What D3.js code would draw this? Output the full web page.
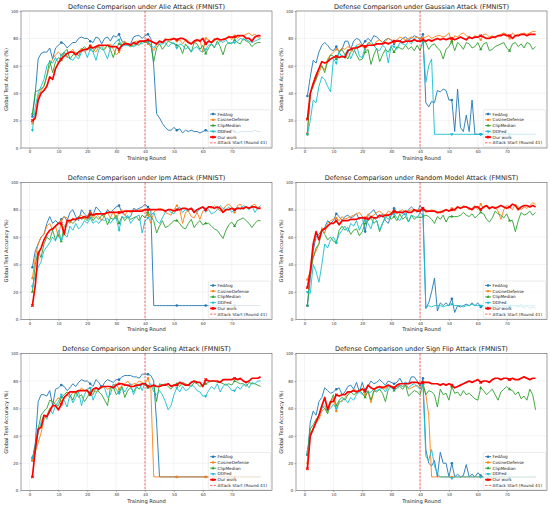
<!DOCTYPE html>
<html lang="en">
<head>
<meta charset="UTF-8">
<title>Defense Comparison (FMNIST)</title>
<script src="https://d3js.org/d3.v7.min.js"></script>
<style>
body{margin:0;background:#fff;}
svg{display:block;font-family:"DejaVu Sans",sans-serif;}
</style>
</head>
<body>
<script>
// categories and ticks
var rounds = d3.range(1, 81);
var xTicks = [0, 10, 20, 30, 40, 50, 60, 70];
var yTicks = [0, 20, 40, 60, 80, 100];
var attackRound = 40;
var methods = ["FedAvg", "CosineDefense", "ClipMedian", "DDFed", "Our work"];
var attackLabel = "Attack Start (Round 41)";
var attacks = ["Alie", "Gaussian", "Ipm", "Random Model", "Scaling", "Sign Flip"];

// Alie
var alieFedAvg = [23,40,65,69,70,70,73,65,73,75, 77,76,73,75,77,77,80,81,80,80, 78,77,81,80,76,80,81,78,82,81, 83,78,77,76,76,81,82,82,80,82, 83,80,60,25,22,18,15,13,13,15, 13,14,11,13,12,13,12,12,11,12, 13,12,13,11,12,13,12,11,12,13, 12,11,12,12,12,12,12,13,12,12];
var alieCosine = [18,22,38,42,45,52,60,65,68,70, 68,70,66,70,72,68,70,73,70,72, 75,72,70,74,75,73,75,76,72,68, 70,77,78,76,75,77,78,77,78,78, 76,74,71,75,78,77,80,79,80,80, 78,79,76,79,78,76,77,78,79,70, 80,79,77,80,79,78,80,79,82,79, 82,80,82,82,83,84,82,83,81,80];
var alieClip = [25,41,42,43,45,53,64,55,63,66, 64,70,72,65,68,70,67,72,74,72, 73,70,73,74,72,72,75,72,66,73, 76,75,77,75,74,75,76,75,78,77, 78,75,63,73,76,72,75,78,77,76, 75,74,69,76,73,70,77,76,72,75, 69,73,76,73,78,74,68,75,77,76, 79,77,76,80,78,77,74,76,77,77];
var alieDDFed = [13,30,40,45,50,60,63,62,66,62, 68,70,67,65,64,67,65,70,72,66, 72,70,64,72,74,70,65,73,75,78, 79,74,75,75,75,74,75,77,76,79, 77,75,73,76,76,76,77,74,76,77, 73,76,75,72,74,70,73,74,71,70, 72,75,76,74,76,78,77,79,76,77, 77,78,80,79,79,78,77,78,79,80];
var alieOurs = [20,22,35,40,42,45,52,50,58,62, 65,67,69,70,70,68,70,71,72,72, 74,73,74,75,75,75,75,74,74,74, 72,75,76,76,75,77,76,78,78,78, 79,78,77,76,78,77,79,79,79,80, 79,80,80,79,77,76,78,79,78,80, 76,78,77,79,80,79,79,80,81,81, 81,82,82,82,80,80,78,81,82,82];

// Gaussian
var gaussFedAvg = [38,52,64,62,70,75,77,75,72,71, 74,70,72,78,78,72,78,80,79,75, 78,80,78,82,81,79,77,79,80,79, 76,79,78,80,81,79,80,82,81,79, 83,33,30,34,33,42,41,43,42,35, 35,12,43,15,12,24,12,35,10,10, 10,10,10,12,11,10,10,10,10,10, 10,10,10,10,10,10,10,10,10,10];
var gaussCosine = [11,40,47,50,55,60,57,65,68,70, 72,71,73,72,74,73,70,75,76,74, 72,77,76,75,78,79,77,78,80,79, 77,79,81,80,79,80,81,80,81,80, 80,81,82,80,81,82,82,81,82,84, 77,82,81,83,84,82,81,80,82,81, 79,83,83,81,82,80,82,83,84,83, 80,84,82,83,83,84,83,84,85,85];
var gaussClip = [10,40,45,50,58,60,55,63,68,67, 65,70,72,68,65,70,73,68,64,65, 70,72,61,68,73,63,68,72,70,74, 70,74,73,72,75,72,74,71,75,71, 78,77,72,75,76,73,71,65,72,74, 78,71,77,75,72,77,76,73,74,77, 72,76,77,71,72,74,75,76,77,73, 71,76,77,74,76,73,77,76,72,74];
var gaussDDFed = [10,20,35,33,45,52,50,45,41,65, 62,70,66,68,72,65,70,75,67,66, 74,76,78,75,72,71,75,73,62,75, 74,72,77,76,75,78,76,80,78,78, 77,48,60,65,10,10,10,10,10,10, 10,10,10,10,10,10,10,10,10,10, 10,10,10,10,10,10,10,10,10,10, 10,10,10,10,10,10,10,10,10,10];
var gaussOurs = [21,40,47,53,58,63,62,63,65,66, 67,66,67,66,71,72,73,73,74,75, 74,75,75,75,76,76,76,77,76,77, 78,78,78,77,78,78,78,79,78,78, 79,78,79,78,79,80,79,80,79,80, 80,79,80,81,80,79,81,80,81,81, 82,81,80,80,81,81,82,82,83,82, 82,80,82,82,83,83,82,83,83,83];

// Ipm
var ipmFedAvg = [38,50,55,60,62,70,75,70,72,70, 73,75,72,78,80,75,72,80,77,75, 79,76,82,80,77,76,80,78,80,82, 83,78,76,74,75,81,80,81,82,84, 82,80,10,10,10,10,10,10,10,10, 10,10,10,10,10,10,10,10,10,10, 10,10,10,10,10,10,10,10,10,10, 10,10,10,10,10,10,10,10,10,10];
var ipmCosine = [30,45,55,60,62,68,70,65,68,60, 72,75,74,70,74,72,75,76,73,75, 78,74,77,75,72,76,78,74,79,73, 78,80,76,79,78,80,79,80,80,80, 76,70,78,80,81,80,78,77,76,80, 83,80,70,78,79,75,74,78,73,79, 80,82,81,83,81,79,80,83,84,82, 78,83,84,80,82,81,83,84,81,82];
var ipmClip = [20,40,50,45,55,60,58,65,58,62, 57,68,70,72,70,72,75,73,74,72, 76,72,75,73,76,75,69,74,73,76, 70,75,72,75,73,74,75,72,76,74, 78,75,72,63,68,72,67,68,70,72, 72,70,67,66,70,73,67,70,72,69, 70,70,68,66,65,62,59,65,69,71, 68,72,73,74,72,70,67,70,72,72];
var ipmDDFed = [24,32,38,42,50,53,56,60,57,65, 58,62,60,68,65,70,66,68,72,70, 74,70,72,70,73,72,74,70,73,74, 65,75,74,76,70,73,75,76,63,72, 74,76,78,72,70,74,78,80,78,77, 80,82,78,80,79,81,80,78,81,82, 79,80,77,78,80,83,81,80,82,78, 80,82,80,83,82,80,83,78,81,83];
var ipmOurs = [10,25,48,52,58,62,65,66,68,70, 70,62,72,72,73,73,74,74,75,74, 77,76,77,77,77,77,78,78,78,78, 78,78,79,79,79,79,79,79,79,80, 80,80,80,80,80,80,79,80,80,79, 80,80,81,81,80,81,78,80,81,82, 80,82,82,81,82,81,78,80,80,81, 80,81,81,81,82,81,82,82,81,81];

// Random Model
var randFedAvg = [10,30,50,60,62,65,67,72,70,72, 77,75,72,75,76,74,75,77,73,75, 64,76,78,80,76,74,77,72,70,76, 81,78,79,77,76,80,82,80,78,83, 80,8,12,20,30,6,12,10,12,10, 15,5,10,9,10,11,10,12,10,12, 9,10,8,9,9,10,9,8,9,10, 9,10,10,9,11,8,10,8,9,8];
var randCosine = [29,35,45,50,55,67,63,70,72,73, 74,72,75,73,74,75,76,77,78,75, 73,77,75,76,78,79,77,76,79,78, 78,77,79,80,78,79,80,79,80,80, 81,78,79,80,79,77,79,78,80,79, 81,79,82,81,83,82,80,81,83,80, 84,81,83,80,82,82,79,73,80,83, 82,80,84,82,80,82,81,83,85,84];
var randClip = [10,35,45,52,55,65,62,58,60,57, 56,65,68,65,67,62,65,66,61,64, 70,72,74,70,72,64,70,74,76,73, 75,72,77,73,75,71,76,73,75,74, 75,76,75,73,70,75,73,76,71,75, 75,75,75,76,78,76,75,77,74,76, 78,77,73,71,74,79,77,76,74,77, 72,72,64,72,78,76,77,79,76,78];
var randDDFed = [20,19,40,35,27,40,55,52,58,60, 56,62,65,68,64,70,68,72,65,70, 72,70,66,74,72,65,70,75,73,76, 77,74,72,76,78,71,76,75,74,78, 76,8,10,9,10,10,10,9,10,10, 11,10,10,10,9,10,10,11,10,10, 10,10,9,10,10,10,10,10,10,9, 10,10,10,10,9,10,10,10,10,10];
var randOurs = [23,35,55,64,58,65,66,68,70,70, 72,69,72,72,72,73,73,73,74,74, 74,73,75,74,74,76,75,76,76,77, 79,78,78,78,79,78,78,80,79,79, 81,79,79,79,79,78,78,79,80,79, 80,80,82,81,82,82,81,80,82,82, 80,82,83,81,82,81,82,83,82,81, 82,84,83,80,82,83,83,82,83,82];

// Scaling
var scaleFedAvg = [22,35,65,70,70,69,73,62,74,75, 77,76,73,75,78,76,79,81,80,80, 78,76,81,79,75,79,81,80,79,81, 81,83,84,84,84,83,83,82,85,85, 85,84,80,50,10,10,10,10,10,10, 10,10,10,10,10,10,10,10,10,10, 10,10,10,10,10,10,10,10,10,10, 10,10,10,10,10,10,10,10,10,10];
var scaleCosine = [22,28,35,42,52,55,60,62,65,68, 65,68,70,68,72,71,72,75,73,74, 75,73,72,74,75,76,74,75,77,78, 74,77,78,80,77,78,78,80,79,78, 82,75,10,10,10,10,10,10,10,10, 10,10,10,10,10,10,10,10,10,10, 10,10,10,10,10,10,10,10,10,10, 10,10,10,10,10,10,10,10,10,10];
var scaleClip = [24,32,45,55,58,60,66,65,63,62, 68,70,72,70,66,72,68,70,65,68, 72,70,75,72,70,66,62,75,76,70, 72,76,68,73,75,72,76,74,78,77, 75,76,77,65,78,77,78,76,74,77, 78,76,79,78,77,76,79,78,76,77, 78,79,80,80,79,79,78,77,78,77, 80,79,78,78,76,79,78,78,77,76];
var scaleDDFed = [24,30,42,50,55,52,60,56,62,65, 70,66,61,70,64,68,72,62,70,74, 75,66,71,74,77,75,68,70,78,74, 71,75,72,76,78,70,75,78,73,79, 76,78,72,70,73,70,65,59,62,70, 75,72,76,73,74,77,76,73,72,69, 69,73,76,74,78,72,76,78,76,73, 73,76,74,77,78,75,79,78,80,80];
var scaleOurs = [10,30,45,46,55,54,58,62,62,59, 63,68,70,72,72,72,73,73,73,73, 70,74,75,74,76,76,76,76,75,77, 78,78,77,77,76,76,77,77,78,78, 76,76,77,76,76,77,77,78,76,77, 77,79,78,77,77,79,80,79,79,76, 81,80,80,80,80,79,81,81,81,81, 82,81,82,80,79,80,82,82,82,83];

// Sign Flip
var signFedAvg = [26,50,58,55,65,68,75,73,71,72, 74,75,70,72,76,77,74,79,72,79, 72,76,80,78,79,81,79,77,80,79, 78,79,82,78,79,78,83,83,80,76, 82,30,20,18,22,10,28,20,20,10, 20,10,12,10,11,19,10,12,10,13, 11,10,10,10,10,10,10,10,10,10, 10,10,10,10,10,10,10,10,10,10];
var signCosine = [20,42,45,50,52,58,60,57,63,68, 58,65,65,68,70,72,74,73,72,75, 70,72,64,72,76,75,76,74,77,76, 75,76,77,76,77,74,75,76,77,75, 78,70,55,10,10,10,10,10,10,10, 10,10,10,10,10,10,10,10,10,10, 10,10,10,10,10,10,10,10,10,10, 10,10,10,10,10,10,10,10,10,10];
var signClip = [27,45,48,52,55,62,60,56,65,70, 62,66,68,66,70,72,70,71,73,71, 68,73,66,73,72,74,71,65,74,76, 73,75,76,74,77,69,71,73,72,70, 78,70,73,72,70,61,74,70,71,66, 76,71,72,69,73,70,71,69,67,66, 75,73,70,72,74,70,66,72,74,76, 74,73,70,72,67,69,66,74,70,59];
var signDDFed = [28,40,45,50,55,60,62,58,60,63, 60,64,66,67,64,68,66,70,72,70, 74,71,72,74,73,74,75,72,76,75, 74,75,77,76,78,75,77,78,76,74, 77,25,22,30,18,12,10,10,10,10, 9,10,10,10,10,10,10,10,10,10, 10,10,10,10,10,10,10,10,10,10, 10,10,10,10,10,10,10,10,10,10];
var signOurs = [16,40,45,50,55,62,68,59,65,65, 70,69,70,70,72,72,73,72,73,74, 73,77,75,74,75,76,75,76,77,76, 75,77,78,78,78,78,79,79,79,78, 79,79,79,78,78,78,77,78,77,78, 77,75,76,77,78,79,80,79,80,81, 79,80,80,79,81,82,82,81,82,82, 81,82,81,81,82,83,82,81,82,82];

var panelSeries = [
	[alieFedAvg, alieCosine, alieClip, alieDDFed, alieOurs],
	[gaussFedAvg, gaussCosine, gaussClip, gaussDDFed, gaussOurs],
	[ipmFedAvg, ipmCosine, ipmClip, ipmDDFed, ipmOurs],
	[randFedAvg, randCosine, randClip, randDDFed, randOurs],
	[scaleFedAvg, scaleCosine, scaleClip, scaleDDFed, scaleOurs],
	[signFedAvg, signCosine, signClip, signDDFed, signOurs]
];

var W = 550, H = 508;
var colX = [21, 296];
var rowY = [11, 182.3, 353.6];
var w = 251, h = 137;
var colors = ["#1f77b4", "#ff7f0e", "#2ca02c", "#17becf", "#ff0000"];
var widths = [0.9, 0.9, 0.9, 0.9, 1.7];
var symbols = [d3.symbolCircle, d3.symbolSquare, d3.symbolTriangle, d3.symbolTriangle, d3.symbolCross];
var rotations = [0, 0, 0, 180, 45];
var symSizes = [5, 4.5, 4.5, 4.5, 6];

var svg = d3.select("body").append("svg")
	.attr("width", W)
	.attr("height", H);

var x = d3.scaleLinear().domain([-2.95, 83.95]).range([0, w]);
var y = d3.scaleLinear().domain([0, 100]).range([h, 0]);

attacks.forEach(function(name, p){
	drawPanel(name, panelSeries[p], colX[p % 2], rowY[Math.floor(p / 2)]);
});

function drawPanel(name, series, left, top){
	var g = svg.append("g").attr("transform", "translate(" + left + "," + top + ")");

	// grid
	g.selectAll("line.gx").data(xTicks).enter().append("line")
		.attr("x1", function(d){ return x(d); })
		.attr("x2", function(d){ return x(d); })
		.attr("y1", 0).attr("y2", h)
		.attr("stroke", "#b0b0b0").attr("stroke-opacity", 0.35).attr("stroke-width", 0.4);
	g.selectAll("line.gy").data(yTicks).enter().append("line")
		.attr("x1", 0).attr("x2", w)
		.attr("y1", function(d){ return y(d); })
		.attr("y2", function(d){ return y(d); })
		.attr("stroke", "#b0b0b0").attr("stroke-opacity", 0.35).attr("stroke-width", 0.4);

	// axes
	var ax = g.append("g").attr("transform", "translate(0," + h + ")")
		.call(d3.axisBottom(x).tickValues(xTicks).tickSize(1.5).tickPadding(1.2));
	var ay = g.append("g")
		.call(d3.axisLeft(y).tickValues(yTicks).tickSize(1.5).tickPadding(1.2));
	[ax, ay].forEach(function(a){
		a.select(".domain").remove();
		a.attr("font-size", 3.9).attr("font-family", "DejaVu Sans");
		a.selectAll("line").attr("stroke", "#444").attr("stroke-width", 0.4);
		a.selectAll("text").attr("fill", "#333");
	});

	var line = d3.line()
		.x(function(d, i){ return x(rounds[i]); })
		.y(function(d){ return y(d); });

	series.forEach(function(vals, s){
		g.append("path")
			.datum(vals)
			.attr("d", line)
			.attr("fill", "none")
			.attr("stroke", colors[s])
			.attr("stroke-width", widths[s])
			.attr("stroke-linejoin", "round");
		g.selectAll("path.m" + s)
			.data(vals.filter(function(d, i){ return i % 10 === 0; }))
			.enter().append("path")
			.attr("d", d3.symbol().type(symbols[s]).size(symSizes[s]))
			.attr("transform", function(d, i){
				return "translate(" + x(rounds[i * 10]) + "," + y(d) + ") rotate(" + rotations[s] + ")";
			})
			.attr("fill", colors[s]);
	});

	// attack start
	g.append("line")
		.attr("x1", x(attackRound)).attr("x2", x(attackRound))
		.attr("y1", 0).attr("y2", h)
		.attr("stroke", "#ff0000").attr("stroke-width", 0.8)
		.attr("stroke-dasharray", "2.4,1.3").attr("opacity", 0.75);

	// frame
	g.append("rect")
		.attr("width", w).attr("height", h)
		.attr("fill", "none").attr("stroke", "#444").attr("stroke-width", 0.5);

	// title and labels
	g.append("text")
		.attr("x", w / 2).attr("y", -2.4)
		.attr("text-anchor", "middle")
		.attr("font-size", 6.5).attr("fill", "#222")
		.text("Defense Comparison under " + name + " Attack (FMNIST)");
	g.append("text")
		.attr("x", w / 2).attr("y", h + 12.2)
		.attr("text-anchor", "middle")
		.attr("font-size", 5.2).attr("fill", "#222")
		.text("Training Round");
	g.append("text")
		.attr("transform", "translate(-13.2," + (h / 2) + ") rotate(-90)")
		.attr("text-anchor", "middle")
		.attr("font-size", 5.1).attr("fill", "#222")
		.text("Global Test Accuracy (%)");

	// legend
	var lw = 62.5, lh = 37;
	var lg = g.append("g").attr("transform", "translate(" + (w - lw - 1.2) + "," + (h - lh - 1.2) + ")");
	lg.append("rect")
		.attr("width", lw).attr("height", lh).attr("rx", 1)
		.attr("fill", "#fff").attr("fill-opacity", 0.8)
		.attr("stroke", "#ccc").attr("stroke-width", 0.4);
	var items = methods.concat([attackLabel]);
	items.forEach(function(label, i){
		var cy = 4.3 + i * 5.75;
		if (i < methods.length) {
			lg.append("line")
				.attr("x1", 1.8).attr("x2", 7.8).attr("y1", cy).attr("y2", cy)
				.attr("stroke", colors[i]).attr("stroke-width", widths[i]);
			lg.append("path")
				.attr("d", d3.symbol().type(symbols[i]).size(symSizes[i]))
				.attr("transform", "translate(4.8," + cy + ") rotate(" + rotations[i] + ")")
				.attr("fill", colors[i]);
		} else {
			lg.append("line")
				.attr("x1", 1.8).attr("x2", 7.8).attr("y1", cy).attr("y2", cy)
				.attr("stroke", "#ff0000").attr("stroke-width", 0.8)
				.attr("stroke-dasharray", "2.4,1.3").attr("opacity", 0.75);
		}
		lg.append("text")
			.attr("x", 9.3).attr("y", cy).attr("dy", "0.35em")
			.attr("font-size", 4.2).attr("fill", "#222")
			.text(label);
	});
}
</script>
</body>
</html>
